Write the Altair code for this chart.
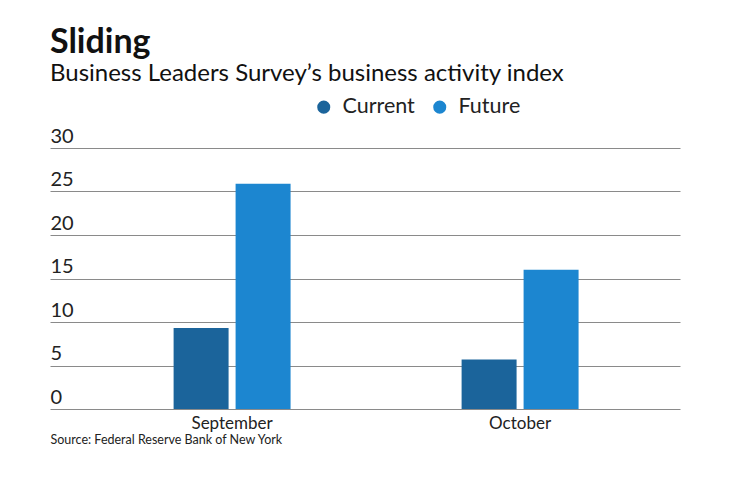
import altair as alt
import pandas as pd

months = ["September", "October"]
series = ["Current", "Future"]
current_vals = [9.3, 5.7]
future_vals = [25.9, 16.0]
y_ticks = [0, 5, 10, 15, 20, 25, 30]
colors = ["#1b649b", "#1c86d0"]

rows = []
for m, c, f in zip(months, current_vals, future_vals):
    rows.append({"month": m, "series": "Current", "value": c})
    rows.append({"month": m, "series": "Future", "value": f})
df = pd.DataFrame(rows)

FONT = "Lato"

chart = alt.Chart(df).mark_bar().encode(
    x=alt.X("month:N", sort=months,
            scale=alt.Scale(paddingInner=0.5, paddingOuter=0.34375, align=0.556),
            axis=alt.Axis(title="Source: Federal Reserve Bank of New York", labelAngle=0,
                          domain=False, ticks=False, labelPadding=6, labelFontSize=17,
                          labelColor="#222222", labelFont=FONT,
                          titleFont=FONT, titleFontSize=12.5, titleFontWeight="normal",
                          titleColor="#222222", titleAnchor="start", titleAlign="left",
                          titleX=0, titleY=24)),
    xOffset=alt.XOffset("series:N", sort=series,
                        scale=alt.Scale(paddingInner=0.113, paddingOuter=0.218)),
    y=alt.Y("value:Q", scale=alt.Scale(domain=[0, 30], nice=False),
            axis=alt.Axis(title=None, values=y_ticks, domain=False, ticks=False,
                          grid=True, gridColor="#8a8a8a", gridWidth=1,
                          labelAlign="left", labelBaseline="alphabetic",
                          labelPadding=0, labelOffset=-6,
                          labelFontSize=20, labelColor="#222222", labelFont=FONT)),
    color=alt.Color("series:N", sort=series,
                    scale=alt.Scale(domain=series, range=colors),
                    legend=alt.Legend(title=None, orient="none", direction="horizontal",
                                      legendX=263, legendY=-52, symbolType="circle",
                                      symbolSize=170, labelFontSize=21.5, labelFont=FONT,
                                      labelColor="#222222", labelOffset=8,
                                      columnPadding=14, symbolStrokeWidth=0)),
).properties(
    width=630,
    height=261,
    background="white",
    title=alt.TitleParams(
        text="Sliding",
        subtitle="Business Leaders Survey\u2019s business activity index",
        anchor="start", frame="group", font=FONT, fontSize=34, fontWeight="bold",
        color="#111111", subtitleFont=FONT, subtitleFontSize=24,
        subtitleColor="#111111", subtitlePadding=2, offset=10,
    ),
    autosize=alt.AutoSizeParams(type="none"),
    padding={"left": 42, "top": 140, "right": 40, "bottom": 50},
).configure_view(stroke=None)

chart.save("out.html", embed_options={"renderer": "svg", "actions": False})
